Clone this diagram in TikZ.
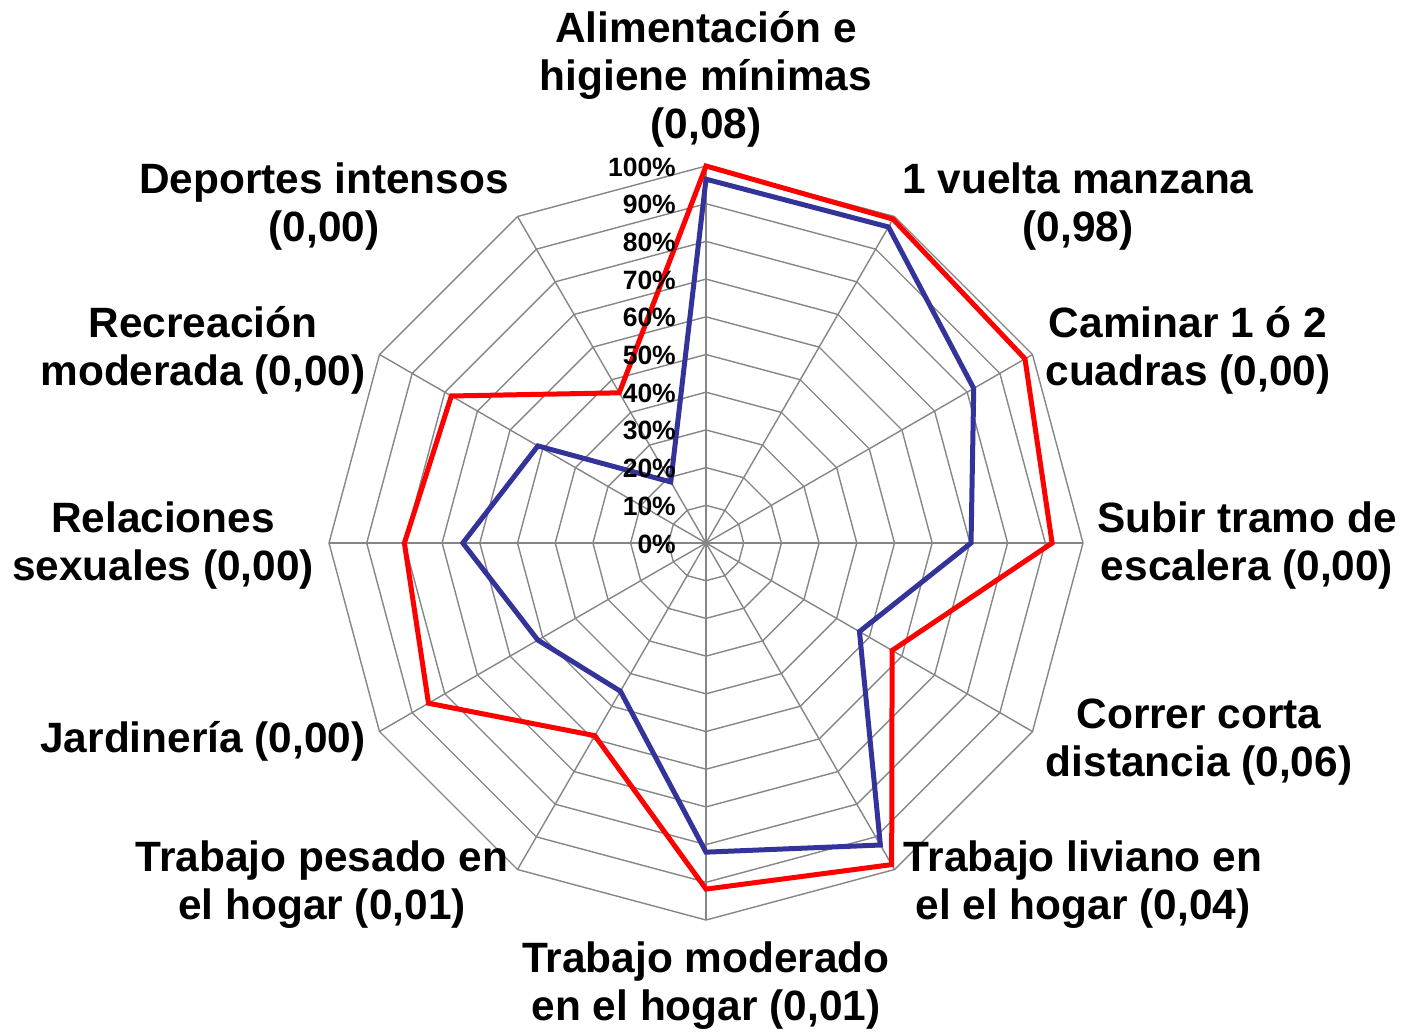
\documentclass[tikz,border=0pt]{standalone}
\usepackage{fontspec}
\setmainfont{Liberation Sans}
\newcommand{\ml}[1]{\begin{tabular}[t]{@{}c@{}}#1\end{tabular}}
\definecolor{serred}{RGB}{255,0,0}
\definecolor{serblue}{RGB}{51,51,153}
\definecolor{gridgray}{RGB}{134,134,134}
\begin{document}
\begin{tikzpicture}[x=1pt,y=1pt,
  lab/.style={font=\bfseries\fontsize{42.4}{48}\selectfont, inner sep=0pt, anchor=base},
  pct/.style={font=\bfseries\fontsize{26.5}{30}\selectfont, inner sep=0pt, anchor=base east},
  gridline/.style={draw=gridgray, line width=1.4pt},
  redser/.style={draw=serred, line width=5pt, line join=miter},
  blueser/.style={draw=serblue, line width=5pt, line join=miter}]
\useasboundingbox (0,0) rectangle (1404,-1031);
\fill[white] (0,0) rectangle (1404,-1031);
\begin{scope}[shift={(706,-543)}]
  \coordinate (O) at (0,0);
  % rings
  \foreach \k in {1,...,10} {
    \pgfmathsetmacro\rr{37.7*\k}
    \draw[gridline] (90:\rr) \foreach \i in {1,...,11} { -- (90-30*\i:\rr) } -- cycle;
  }
  % spokes
  \foreach \i in {0,...,11} {
    \coordinate (s\i) at (90-30*\i:377);
    \draw[gridline] (O) -- (s\i);
  }
  % series
  \foreach \v [count=\i from 0] in {100,99.2,97.7,91.8,57,98.5,91.8,59,85,80,78,46}
    \coordinate (r\i) at (90-30*\i:3.77*\v);
  \foreach \v [count=\i from 0] in {96.5,96.8,82,70.3,47,92.5,82,45.4,51.5,64.5,51.5,18.7}
    \coordinate (b\i) at (90-30*\i:3.77*\v);
  \draw[blueser] (b0) -- (b1) -- (b2) -- (b3) -- (b4) -- (b5) -- (b6) -- (b7) -- (b8) -- (b9) -- (b10) -- (b11) -- cycle;
  \draw[redser] (r0) -- (r1) -- (r2) -- (r3) -- (r4) -- (r5) -- (r6) -- (r7) -- (r8) -- (r9) -- (r10) -- (r11) -- cycle;
\end{scope}
% percentage labels
\foreach \k in {0,...,10} {
  \pgfmathtruncatemacro\pv{10*\k}
  \node[pct] (p\k) at (676,{-543+37.7*\k-10}) {\pv\%};
}
% category labels
\node[lab] (l0)  at (706,-42)   {\ml{Alimentación e\\higiene mínimas\\(0,08)}};
\node[lab] (l1)  at (1078,-193) {\ml{1 vuelta manzana\\(0,98)}};
\node[lab] (l2)  at (1188,-337) {\ml{Caminar 1 ó 2\\cuadras (0,00)}};
\node[lab] (l3)  at (1247,-532) {\ml{Subir tramo de\\escalera (0,00)}};
\node[lab] (l4)  at (1199,-728) {\ml{Correr corta\\distancia (0,06)}};
\node[lab] (l5)  at (1083,-871) {\ml{Trabajo liviano en\\el el hogar (0,04)}};
\node[lab] (l6)  at (706,-972)  {\ml{Trabajo moderado\\en el hogar (0,01)}};
\node[lab] (l7)  at (322,-871)  {\ml{Trabajo pesado en\\el hogar (0,01)}};
\node[lab] (l8)  at (203,-752)  {\ml{Jardinería (0,00)}};
\node[lab] (l9)  at (163,-532)  {\ml{Relaciones\\sexuales (0,00)}};
\node[lab] (l10) at (203,-337)  {\ml{Recreación\\moderada (0,00)}};
\node[lab] (l11) at (324,-193)  {\ml{Deportes intensos\\(0,00)}};
\end{tikzpicture}
\end{document}
